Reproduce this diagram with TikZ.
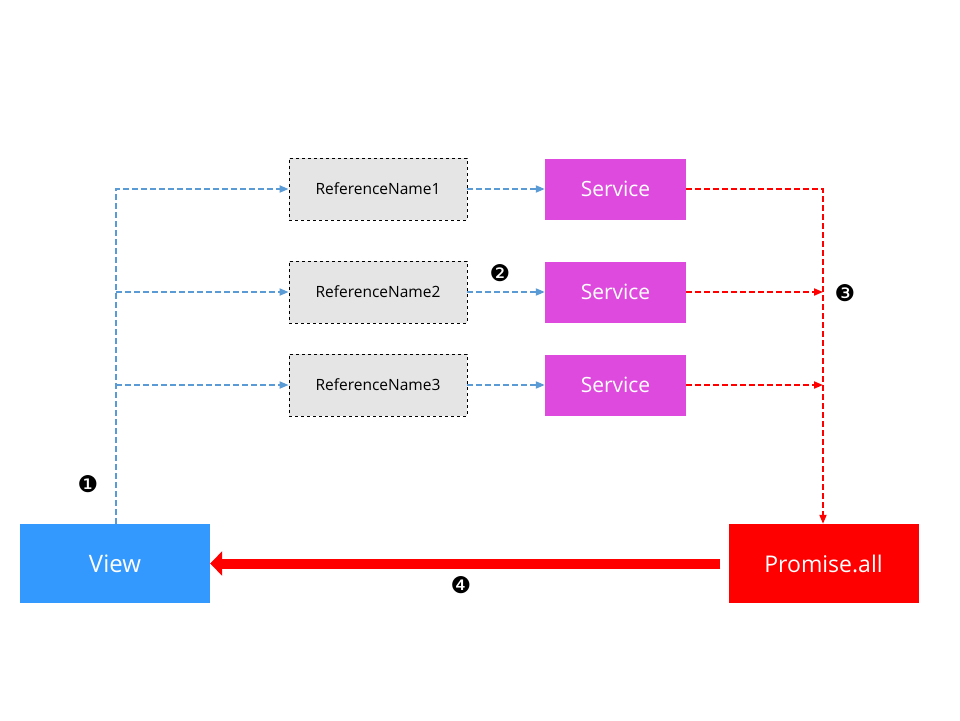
\documentclass[tikz,border=0pt]{standalone}
\usepackage{fontspec}
\setmainfont{Open Sans}
\newfontfamily\symfont{DejaVu Sans}
\usetikzlibrary{arrows.meta}
\definecolor{viewblue}{RGB}{51,153,255}
\definecolor{svcmag}{RGB}{221,74,221}
\definecolor{refgray}{RGB}{229,229,229}
\definecolor{linkblue}{RGB}{91,155,213}
\tikzset{
  refbox/.style={draw=black, dashed, line width=0.8pt, fill=refgray, minimum width=178pt, minimum height=62pt, inner sep=0pt, font=\fontsize{15.5}{18}\selectfont},
  svcbox/.style={fill=svcmag, minimum width=141pt, minimum height=61pt, inner sep=0pt, text=white, font=\fontsize{21}{24}\selectfont},
  bigbox/.style={minimum width=190pt, minimum height=79pt, inner sep=0pt, text=white, font=\fontsize{24}{28}\selectfont},
  bluelink/.style={draw=linkblue, line width=1.8pt, dash pattern=on 6pt off 3pt, -{Triangle[length=9pt,width=7pt]}},
  redlink/.style={draw=red, line width=1.8pt, dash pattern=on 6pt off 3pt, -{Triangle[length=9pt,width=7pt]}},
  numlabel/.style={font=\symfont\fontsize{23}{24}\selectfont, inner sep=0pt}
}
\begin{document}
\begin{tikzpicture}[x=1pt,y=-1pt]
\useasboundingbox (0,0) rectangle (960,720);
\node[bigbox, fill=viewblue] (view) at (115,563.5) {View};
\node[bigbox, fill=red, font=\fontsize{23}{26}\selectfont] (prom) at (823.5,563.5) {Promise.all};
\node[refbox] (r1) at (378,189) {ReferenceName1};
\node[refbox] (r2) at (378,292) {ReferenceName2};
\node[refbox] (r3) at (378,385) {ReferenceName3};
\node[svcbox] (s1) at (615.5,189) {Service};
\node[svcbox] (s2) at (615.5,292) {Service};
\node[svcbox] (s3) at (615.5,385) {Service};
\coordinate (vtop) at (116,524);
\coordinate (b1) at (116,189);
\coordinate (b2) at (116,292);
\coordinate (b3) at (116,385);
\coordinate (c1) at (823,189);
\coordinate (c2) at (823,292);
\coordinate (c3) at (823,385);
% blue fan-out
\draw[bluelink] (vtop) -- (b1) -- (r1.west);
\draw[bluelink] (b2) -- (r2.west);
\draw[bluelink] (b3) -- (r3.west);
\draw[bluelink] (r1.east) -- (s1.west);
\draw[bluelink] (r2.east) -- (s2.west);
\draw[bluelink] (r3.east) -- (s3.west);
% red collection
\draw[redlink] (s1.east) -- (c1) -- (prom.north -| c1);
\draw[redlink] (s2.east) -- (c2);
\draw[redlink] (s3.east) -- (c3);
% big arrow
\draw[red, line width=10pt, -{Triangle[length=12pt,width=24pt]}] (prom.west) ++(-8,0) coordinate (pstart) (pstart) -- (view.east);
% numbers
\node[numlabel] (n1) at (88,484) {❶};
\node[numlabel] (n2) at (500,273) {❷};
\node[numlabel] (n3) at (845,293) {❸};
\node[numlabel] (n4) at (461,585) {❹};
\end{tikzpicture}
\end{document}
